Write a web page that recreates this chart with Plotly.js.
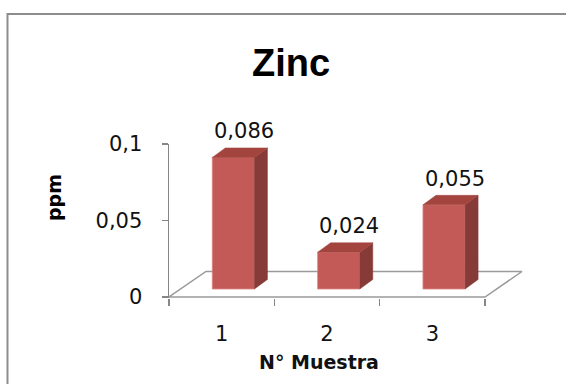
<!DOCTYPE html>
<html>
<head>
<meta charset="utf-8">
<script src="https://cdn.plot.ly/plotly-3.0.1.min.js"></script>
<style>html,body{margin:0;padding:0;background:#fff;}#chart{width:566px;height:384px;}</style>
</head>
<body>
<div id="chart"></div>
<script>
// ---- data ----
const categories = [1, 2, 3];
const tickLabels = ['1', '2', '3'];
const values = [0.086, 0.024, 0.055];
const chartTitle = 'Zinc';
const xTitle = 'N° Muestra';
const yTitle = 'ppm';

// ---- geometry (pixels -> data units) ----
const W = 566, H = 384;
const L = 169, T = 144;           // plot area left / top
const pxPerX = 316 / 3;           // px per category
const pxPerY = 153 / 0.1;         // px per ppm
const plotW = 366, plotH = 154;
const xMin = 0.5, xMax = xMin + plotW / pxPerX;
const yMax = 0.1, yMin = yMax - plotH / pxPerY;

const dxB = 11.7 / pxPerX, dyB = 8 / pxPerY;     // bar front offset (depth)
const halfW = 0.2;                                 // half bar width
const ddx = 13 / pxPerX, ddy = 9.5 / pxPerY;      // bar depth
const dxF = 37 / pxPerX, dyF = 25.5 / pxPerY;     // floor depth

function px2paperX(p) { return (p - L) / plotW; }
function px2paperY(p) { return (T + plotH - p) / plotH; }
function data2paperY(v) { return (v - yMin) / (yMax - yMin); }

const faceFront = {x: [], y: []}, faceSide = {x: [], y: []}, faceTop = {x: [], y: []};
categories.forEach((c, i) => {
  const v = values[i];
  const x0 = c - halfW + dxB, x1 = c + halfW + dxB, yb = dyB, yt = v + dyB;
  faceFront.x.push(x0, x1, x1, x0, x0, null); faceFront.y.push(yb, yb, yt, yt, yb, null);
  faceSide.x.push(x1, x1 + ddx, x1 + ddx, x1, x1, null); faceSide.y.push(yb, yb + ddy, yt + ddy, yt, yb, null);
  faceTop.x.push(x0, x1, x1 + ddx, x0 + ddx, x0, null); faceTop.y.push(yt, yt, yt + ddy, yt + ddy, yt, null);
});

const floorColor = '#9a9a9a';
const traces = [
  {x: [xMin, xMin + dxF, 3.5 + dxF, 3.5, xMin], y: [0, dyF, dyF, 0, 0], mode: 'lines',
   line: {color: floorColor, width: 1.5}, hoverinfo: 'skip', showlegend: false},
  {x: faceFront.x, y: faceFront.y, mode: 'lines', fill: 'toself', fillcolor: '#C35A57',
   line: {color: '#d98783', width: 0.8}, hoverinfo: 'skip', showlegend: false},
  {x: faceSide.x, y: faceSide.y, mode: 'lines', fill: 'toself', fillcolor: '#863B39',
   line: {color: '#863B39', width: 0.5}, hoverinfo: 'skip', showlegend: false},
  {x: faceTop.x, y: faceTop.y, mode: 'lines', fill: 'toself', fillcolor: '#A3443F',
   line: {color: '#A3443F', width: 0.5}, hoverinfo: 'skip', showlegend: false}
];

// data labels as annotations (x in data units, y converted from data units)
const labelAnns = categories.map((c, i) => ({
  text: values[i].toFixed(3).replace('.', ','), xref: 'x', yref: 'paper',
  x: c + dxB + 0.1, y: data2paperY(values[i] + dyB + 0.017), xanchor: 'center', yanchor: 'middle',
  showarrow: false, font: {family: 'DejaVu Sans', size: 21, color: '#111'}
}));

const axisGray = '#868686';
const layout = {
  width: W, height: H,
  margin: {l: L, t: T, r: W - L - plotW, b: H - T - plotH, pad: 0},
  paper_bgcolor: '#fff', plot_bgcolor: 'rgba(0,0,0,0)',
  separators: ',.',
  showlegend: false,
  font: {family: 'DejaVu Sans', size: 21, color: '#111'},
  xaxis: {
    range: [xMin, xMax], showline: false, showgrid: false, zeroline: false,
    tickmode: 'array', tickvals: categories, ticktext: tickLabels,
    ticks: 'outside', ticklen: 6, tickcolor: 'rgba(0,0,0,0)', ticklabelstandoff: 11,
    tickfont: {family: 'DejaVu Sans', size: 21, color: '#111'},
    minor: {tickmode: 'array', tickvals: [0.5, 1.5, 2.5, 3.5], ticks: 'outside', ticklen: 7,
            tickcolor: axisGray, tickwidth: 1.5, showgrid: false}
  },
  yaxis: {
    range: [yMin, yMax], showline: true, linecolor: axisGray, linewidth: 1.5,
    showgrid: false, zeroline: false, tick0: 0, dtick: 0.05,
    ticks: 'outside', ticklen: 6, tickcolor: axisGray, tickwidth: 1.5, ticklabelstandoff: 15,
    tickfont: {family: 'DejaVu Sans', size: 21, color: '#111'}
  },
  shapes: [
    {type: 'rect', xref: 'paper', yref: 'paper',
     x0: px2paperX(7.5), x1: px2paperX(600), y0: px2paperY(420), y1: px2paperY(14),
     line: {color: '#8c8c8c', width: 2}, fillcolor: 'rgba(0,0,0,0)', layer: 'below'}
  ],
  annotations: labelAnns.concat([
    {text: '<b>' + chartTitle + '</b>', xref: 'paper', yref: 'paper', x: px2paperX(291), y: px2paperY(63),
     xanchor: 'center', yanchor: 'middle', showarrow: false,
     font: {family: 'Liberation Sans', size: 38, color: '#000'}},
    {text: '<b>' + yTitle + '</b>', xref: 'paper', yref: 'paper', x: px2paperX(54), y: px2paperY(198),
     xanchor: 'center', yanchor: 'middle', textangle: -90, showarrow: false,
     font: {family: 'DejaVu Sans', size: 19, color: '#000'}},
    {text: '<b>' + xTitle + '</b>', xref: 'paper', yref: 'paper', x: px2paperX(318.5), y: px2paperY(362),
     xanchor: 'center', yanchor: 'middle', showarrow: false,
     font: {family: 'DejaVu Sans', size: 19, color: '#111'}}
  ])
};

Plotly.newPlot('chart', traces, layout, {staticPlot: true, displayModeBar: false});
</script>
</body>
</html>
